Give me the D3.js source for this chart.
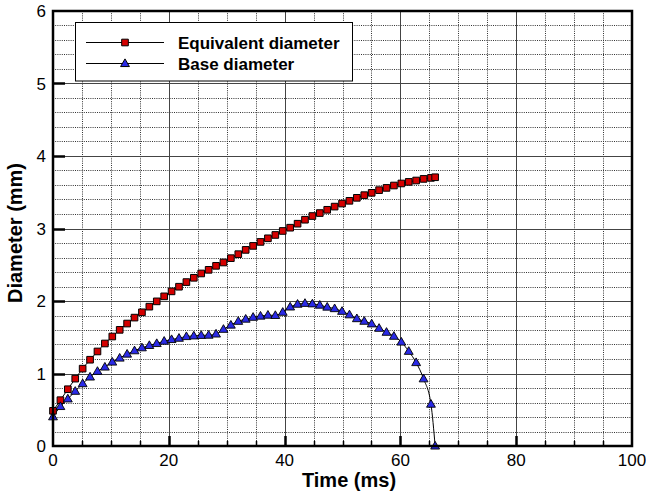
<!DOCTYPE html>
<html>
<head>
<meta charset="utf-8">
<script src="https://cdn.jsdelivr.net/npm/d3@7"></script>
<style>
  html, body { margin: 0; padding: 0; background: #fff; }
  svg { display: block; }
  text { font-family: "Liberation Sans", Arial, Helvetica, sans-serif; fill: #000; }
</style>
</head>
<body>
<svg id="chart" width="646" height="494"></svg>
<script>
// ---- data ----
const times = [0,1.28,2.56,3.84,5.12,6.4,7.68,8.96,10.24,11.52,12.8,14.08,15.36,16.64,17.92,19.2,20.48,21.76,23.04,24.32,25.6,26.88,28.16,29.44,30.72,32,33.28,34.56,35.84,37.12,38.4,39.68,40.96,42.24,43.52,44.8,46.08,47.36,48.64,49.92,51.2,52.48,53.76,55.04,56.32,57.6,58.88,60.16,61.44,62.72,64,65.28,66.0];
const equivalentDiameter = [0.485,0.632,0.783,0.929,1.067,1.190,1.304,1.414,1.510,1.602,1.689,1.771,1.844,1.922,1.995,2.064,2.133,2.197,2.261,2.320,2.380,2.430,2.485,2.531,2.591,2.646,2.705,2.760,2.815,2.865,2.911,2.966,3.011,3.066,3.121,3.172,3.213,3.258,3.302,3.344,3.382,3.423,3.460,3.492,3.529,3.560,3.593,3.621,3.643,3.662,3.684,3.698,3.707];
const baseDiameter = [0.403,0.545,0.650,0.755,0.860,0.952,1.030,1.089,1.158,1.213,1.268,1.314,1.355,1.387,1.414,1.446,1.469,1.487,1.510,1.519,1.526,1.529,1.545,1.610,1.668,1.720,1.750,1.776,1.792,1.805,1.801,1.845,1.918,1.956,1.968,1.961,1.943,1.916,1.895,1.858,1.810,1.757,1.721,1.685,1.624,1.569,1.514,1.434,1.306,1.151,0.927,0.577,0.0];
const seriesNames = ["Equivalent diameter", "Base diameter"];
const xMajorTicks = [0,20,40,60,80,100];
const yMajorTicks = [0,1,2,3,4,5,6];
const xTitle = "Time (ms)";
const yTitle = "Diameter (mm)";

// ---- layout ----
const svg = d3.select("#chart");
const X0 = 53, X1 = 632, Y0 = 446, Y1 = 11;
const x = d3.scaleLinear().domain([0,100]).range([X0, X1]);
const y = d3.scaleLinear().domain([0,6]).range([Y0, Y1]);
const px = v => Math.round(v) + 0.5;

const g = svg.append("g");

// minor dotted grid
const xMinor = d3.range(0, 101, 5).filter(v => v % 20 !== 0);
const yMinor = d3.range(0, 30).map(i => i * 0.2).filter((v, i) => i % 5 !== 0);
g.append("g").selectAll("line").data(xMinor).join("line")
  .attr("x1", d => px(x(d))).attr("x2", d => px(x(d)))
  .attr("y1", Y1).attr("y2", Y0)
  .attr("stroke", "#333").attr("stroke-width", 1).attr("stroke-dasharray", "1,1.2");
g.append("g").selectAll("line").data(yMinor).join("line")
  .attr("y1", d => px(y(d))).attr("y2", d => px(y(d)))
  .attr("x1", X0).attr("x2", X1)
  .attr("stroke", "#333").attr("stroke-width", 1).attr("stroke-dasharray", "1,1.2");

// major solid grid
g.append("g").selectAll("line").data(xMajorTicks.slice(1, -1)).join("line")
  .attr("x1", d => px(x(d))).attr("x2", d => px(x(d)))
  .attr("y1", Y1).attr("y2", Y0)
  .attr("stroke", "#444").attr("stroke-width", 1);
g.append("g").selectAll("line").data(yMajorTicks.slice(1, -1)).join("line")
  .attr("y1", d => px(y(d))).attr("y2", d => px(y(d)))
  .attr("x1", X0).attr("x2", X1)
  .attr("stroke", "#444").attr("stroke-width", 1);

// minor ticks on bottom axis
g.append("g").selectAll("line").data(xMinor).join("line")
  .attr("x1", d => px(x(d))).attr("x2", d => px(x(d)))
  .attr("y1", Y0).attr("y2", Y0 - 5)
  .attr("stroke", "#000").attr("stroke-width", 1.5);
// major ticks
g.append("g").selectAll("line").data(xMajorTicks.slice(1, -1)).join("line")
  .attr("x1", d => px(x(d))).attr("x2", d => px(x(d)))
  .attr("y1", Y0).attr("y2", Y0 - 10)
  .attr("stroke", "#000").attr("stroke-width", 2.5);
g.append("g").selectAll("line").data(yMajorTicks.slice(1, -1)).join("line")
  .attr("y1", d => px(y(d))).attr("y2", d => px(y(d)))
  .attr("x1", X0).attr("x2", X0 + 12)
  .attr("stroke", "#000").attr("stroke-width", 2.5);

// data
const pts = (vals) => times.map((t, i) => [t, vals[i]]);
const line = d3.line().x(d => x(d[0])).y(d => y(d[1])).curve(d3.curveMonotoneX);

const eq = pts(equivalentDiameter);
const bs = pts(baseDiameter);

g.append("path").attr("d", line(eq)).attr("fill", "none").attr("stroke", "#000").attr("stroke-width", 1);
g.append("path").attr("d", line(bs)).attr("fill", "none").attr("stroke", "#000").attr("stroke-width", 1);

const sq = d3.symbol().type(d3.symbolSquare).size(44);
const tri = d3.symbol().type(d3.symbolTriangle).size(34);

g.append("g").selectAll("path").data(eq).join("path")
  .attr("d", sq)
  .attr("transform", d => `translate(${x(d[0])},${y(d[1])})`)
  .attr("fill", "#d40000").attr("stroke", "#000").attr("stroke-width", 1);
g.append("g").selectAll("path").data(bs).join("path")
  .attr("d", tri)
  .attr("transform", d => `translate(${x(d[0])},${y(d[1]) + 0.5})`)
  .attr("fill", "#2a2ae6").attr("stroke", "#000").attr("stroke-width", 0.9);

// frame
g.append("rect")
  .attr("x", X0).attr("y", Y1).attr("width", X1 - X0).attr("height", Y0 - Y1)
  .attr("fill", "none").attr("stroke", "#000").attr("stroke-width", 2.5);

// legend
const L = g.append("g");
L.append("rect").attr("x", 75.5).attr("y", 22.5).attr("width", 277).attr("height", 58.5)
  .attr("fill", "#fff").attr("stroke", "#000").attr("stroke-width", 1);
const legendRows = [
  { name: seriesNames[0], yy: 42.5, sym: sq, fill: "#d40000", dy: 0 },
  { name: seriesNames[1], yy: 63.5, sym: tri, fill: "#2a2ae6", dy: 0.5 }
];
legendRows.forEach(r => {
  L.append("line").attr("x1", 86).attr("x2", 164).attr("y1", r.yy).attr("y2", r.yy)
    .attr("stroke", "#000").attr("stroke-width", 1);
  L.append("path").attr("d", r.sym).attr("transform", `translate(125,${r.yy + r.dy})`)
    .attr("fill", r.fill).attr("stroke", "#000").attr("stroke-width", 1);
  L.append("text").attr("x", 178).attr("y", r.yy + 6).attr("font-size", 17).attr("font-weight", "bold")
    .text(r.name);
});

// tick labels
g.append("g").selectAll("text").data(xMajorTicks).join("text")
  .attr("x", d => x(d)).attr("y", 466).attr("text-anchor", "middle").attr("font-size", 17)
  .text(d => d);
g.append("g").selectAll("text").data(yMajorTicks).join("text")
  .attr("x", 46).attr("y", d => y(d) + 6).attr("text-anchor", "end").attr("font-size", 17)
  .text(d => d);

// axis titles
g.append("text").attr("x", 349).attr("y", 487).attr("text-anchor", "middle")
  .attr("font-size", 20).attr("font-weight", "bold").text(xTitle);
g.append("text").attr("transform", `translate(22,233) rotate(-90)`).attr("text-anchor", "middle")
  .attr("font-size", 20).attr("font-weight", "bold").text(yTitle);
</script>
</body>
</html>
